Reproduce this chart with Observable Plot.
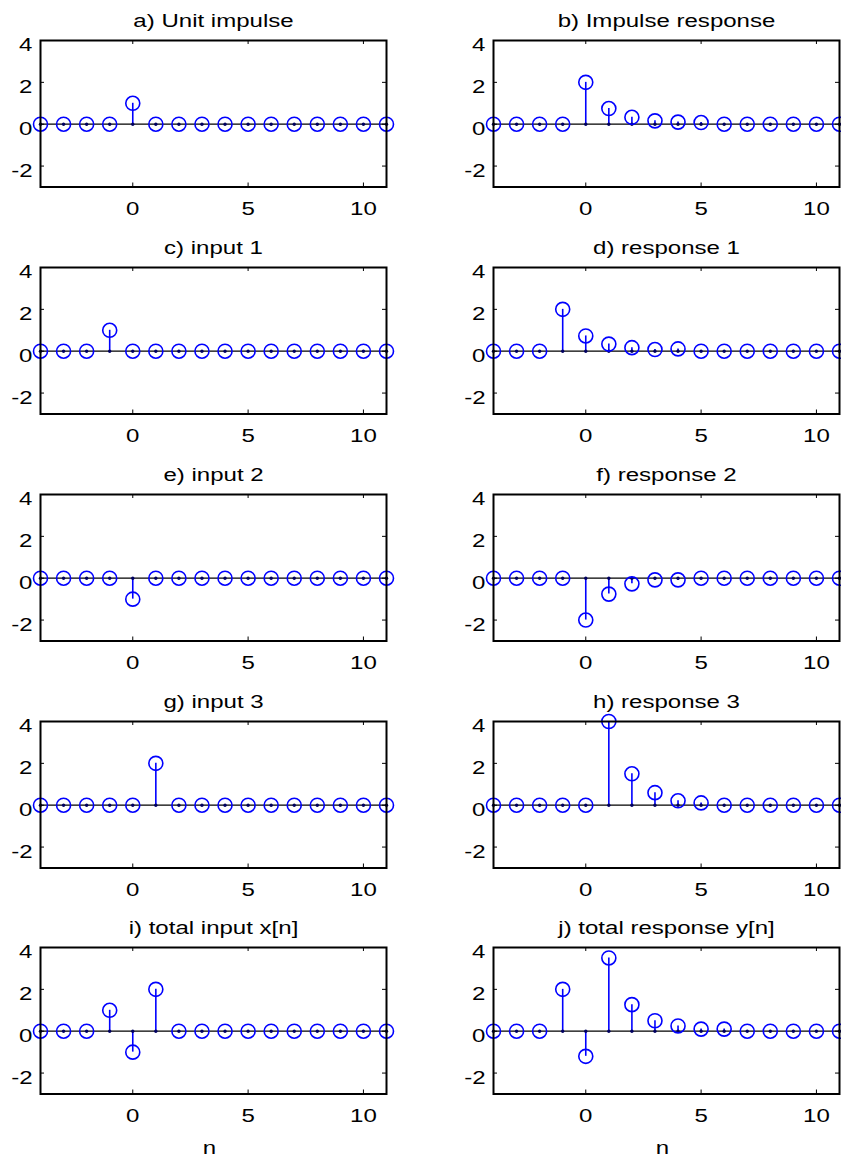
<!DOCTYPE html>
<html><head><meta charset="utf-8">
<script src="https://cdn.jsdelivr.net/npm/d3@7"></script>
<script src="https://cdn.jsdelivr.net/npm/@observablehq/plot@0.6"></script>
<style>
html,body{margin:0;padding:0;background:#fff;}
#root{position:relative;width:841px;height:1157px;overflow:hidden;background:#fff;}
.panel{position:absolute;}
.panel svg{max-width:none !important;}
</style></head><body><div id="root"></div>
<script>
// sample index
const n = [-4,-3,-2,-1,0,1,2,3,4,5,6,7,8,9,10,11];
// axis ticks
const xTicks = [0, 5, 10];
const yTicks = [-2, 0, 2, 4];
// panel titles
const titles = [
  "a) Unit impulse", "b) Impulse response",
  "c) input 1", "d) response 1",
  "e) input 2", "f) response 2",
  "g) input 3", "h) response 3",
  "i) total input x[n]", "j) total response y[n]"
];
// series values (one per n)
const unitImpulse     = [0,0,0,0,1,0,0,0,0,0,0,0,0,0,0,0];
const impulseResponse = [0,0,0,0,2,0.75,0.33,0.16,0.1,0.08,0,0,0,0,0,0];
const input1          = [0,0,0,1,0,0,0,0,0,0,0,0,0,0,0,0];
const response1       = [0,0,0,2,0.73,0.34,0.17,0.08,0.11,0,0,0,0,0,0,0];
const input2          = [0,0,0,0,-1,0,0,0,0,0,0,0,0,0,0,0];
const response2       = [0,0,0,0,-2,-0.76,-0.27,-0.08,-0.08,0,0,0,0,0,0,0];
const input3          = [0,0,0,0,0,2,0,0,0,0,0,0,0,0,0,0];
const response3       = [0,0,0,0,0,4,1.5,0.6,0.21,0.11,0,0,0,0,0,0];
const totalInput      = [0,0,0,1,-1,2,0,0,0,0,0,0,0,0,0,0];
const totalResponse   = [0,0,0,2,-1.2,3.5,1.27,0.5,0.25,0.1,0.1,0,0,0,0,0];
const xLabel = "n";

const series = [unitImpulse, impulseResponse, input1, response1, input2, response2,
                input3, response3, totalInput, totalResponse];

// layout
const colLeft = [40, 492.5];
const rowTop = [40, 267, 493.5, 720.5, 947];
const FW = 346, FH = 146.5;
const ML = 50, MR = 12, MT = 36;
const TEXT_STRETCH = 1.3; // horizontally widened glyphs, as in the original rendering

const root = document.getElementById("root");

function panel(title, values, isBottom) {
  const data = n.map((x, i) => ({n: x, v: values[i]}));
  const MB = isBottom ? 68 : 36;
  const marks = [
    Plot.ruleY([0], {stroke: "black", strokeWidth: 1.3}),
    Plot.ruleX(data, {x: "n", y1: 0, y2: "v", stroke: "#0000ff", strokeWidth: 1.6}),
    Plot.dot(data, {x: "n", y: 0, r: 1.7, fill: "#000060"}),
    Plot.dot(data, {x: "n", y: "v", r: 7, stroke: "#0000ff", strokeWidth: 1.6, fill: "none"}),
    Plot.tickX(xTicks, {x: d => d, insetBottom: FH - 4, stroke: "black", strokeWidth: 1}),
    Plot.tickX(xTicks, {x: d => d, insetTop: FH - 4, stroke: "black", strokeWidth: 1}),
    Plot.tickY(yTicks, {y: d => d, insetRight: FW - 4, stroke: "black", strokeWidth: 1}),
    Plot.tickY(yTicks, {y: d => d, insetLeft: FW - 4, stroke: "black", strokeWidth: 1}),
    Plot.axisX(xTicks, {tickSize: 0, tickPadding: 14.5, label: null, tickFormat: d => String(d)}),
    Plot.axisY(yTicks, {tickSize: 0, tickPadding: 8, label: null, dy: 5, tickFormat: d => String(d)}),
    Plot.frame({stroke: "black", strokeWidth: 2}),
    Plot.text([title], {frameAnchor: "top", dy: -13.5, lineAnchor: "bottom", text: d => d})
  ];
  if (isBottom) {
    marks.push(Plot.text([xLabel], {frameAnchor: "bottom", dy: 59.5, dx: -4, lineAnchor: "bottom", text: d => d}));
  }
  const svg = Plot.plot({
    width: ML + FW + MR,
    height: MT + FH + MB,
    marginLeft: ML, marginRight: MR, marginTop: MT, marginBottom: MB,
    x: {domain: [-4, 11]},
    y: {domain: [-3, 4]},
    style: {fontFamily: "'Liberation Sans', Arial, Helvetica, sans-serif", fontSize: "18.5px",
            background: "transparent", color: "black",
            overflow: "visible", maxWidth: "none"},
    marks
  });
  // widen glyphs around each text's own anchor
  svg.querySelectorAll("text").forEach(t => {
    const tr = t.getAttribute("transform") || "";
    t.setAttribute("transform", tr + ` scale(${TEXT_STRETCH},1)`);
  });
  return svg;
}

titles.forEach((t, i) => {
  const row = Math.floor(i / 2), col = i % 2;
  const svg = panel(t, series[i], row === 4);
  const div = document.createElement("div");
  div.className = "panel";
  div.style.left = (colLeft[col] - ML) + "px";
  div.style.top = (rowTop[row] - MT) + "px";
  div.style.width = (ML + FW + MR) + "px";
  div.appendChild(svg);
  root.appendChild(div);
});
</script>
</body></html>
